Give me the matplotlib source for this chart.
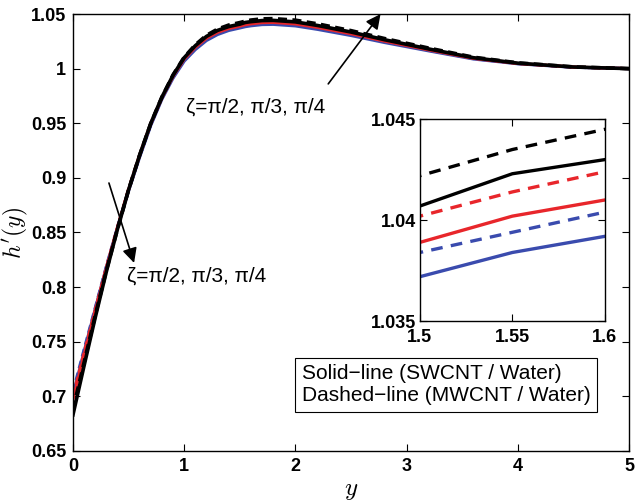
import numpy as np
import matplotlib.pyplot as plt

# -------------------
# DATA
# -------------------
y_vals = [0, 0.1, 0.2, 0.3, 0.4, 0.5, 0.6, 0.7, 0.8, 0.9, 1.0, 1.1, 1.2, 1.3, 1.4,
          1.5, 1.55, 1.6, 1.7, 1.8, 2.0, 2.2, 2.5, 2.8, 3.2, 3.6, 4.0, 4.5, 5.0]

# zeta = pi/2 (black), pi/3 (red), pi/4 (blue); solid = SWCNT, dashed = MWCNT
black_solid = [0.683, 0.728, 0.772, 0.814, 0.853, 0.889, 0.921, 0.950, 0.974, 0.994,
               1.0100, 1.0210, 1.0295, 1.0350, 1.0385, 1.0407, 1.0423, 1.0430, 1.0440,
               1.0442, 1.0428, 1.0395, 1.0335, 1.0265, 1.0180, 1.0100, 1.0050, 1.0015, 1.0000]
black_dash = [0.688, 0.731, 0.774, 0.815, 0.853, 0.889, 0.921, 0.950, 0.974, 0.9943,
              1.0105, 1.0218, 1.0305, 1.0362, 1.0399, 1.0422, 1.0435, 1.0445, 1.0456,
              1.0458, 1.0444, 1.0410, 1.0348, 1.0276, 1.0188, 1.0105, 1.0053, 1.0016, 1.0000]
red_solid = [0.697, 0.738, 0.778, 0.817, 0.854, 0.889, 0.921, 0.9497, 0.9734, 0.993,
             1.0087, 1.0195, 1.0278, 1.0332, 1.0367, 1.0389, 1.0402, 1.0410, 1.0421,
             1.0423, 1.0409, 1.0377, 1.0319, 1.0252, 1.0171, 1.0094, 1.0047, 1.0014, 1.0000]
red_dash = [0.700, 0.740, 0.779, 0.818, 0.855, 0.890, 0.921, 0.950, 0.9737, 0.9935,
            1.0096, 1.0204, 1.0289, 1.0344, 1.0380, 1.0402, 1.0414, 1.0424, 1.0434,
            1.0436, 1.0422, 1.0389, 1.0330, 1.0261, 1.0177, 1.0097, 1.0048, 1.0014, 1.0000]
blue_solid = [0.701, 0.741, 0.780, 0.818, 0.854, 0.888, 0.919, 0.948, 0.9720, 0.9913,
              1.0068, 1.0174, 1.0257, 1.0312, 1.0349, 1.0372, 1.0384, 1.0392, 1.0403,
              1.0405, 1.0391, 1.0359, 1.0303, 1.0239, 1.0162, 1.0088, 1.0044, 1.0012, 1.0000]
blue_dash = [0.704, 0.743, 0.781, 0.819, 0.855, 0.889, 0.920, 0.9490, 0.9728, 0.9923,
             1.0080, 1.0187, 1.0271, 1.0326, 1.0362, 1.0384, 1.0394, 1.0404, 1.0414,
             1.0416, 1.0402, 1.0370, 1.0313, 1.0247, 1.0168, 1.0092, 1.0046, 1.0013, 1.0000]

main_xticks = [0, 1, 2, 3, 4, 5]
main_yticks = [0.65, 0.7, 0.75, 0.8, 0.85, 0.9, 0.95, 1.0, 1.05]
main_yticklabels = ["0.65", "0.7", "0.75", "0.8", "0.85", "0.9", "0.95", "1", "1.05"]
inset_xticks = [1.5, 1.55, 1.6]
inset_xticklabels = ["1.5", "1.55", "1.6"]
inset_yticks = [1.035, 1.04, 1.045]
inset_yticklabels = ["1.035", "1.04", "1.045"]

zeta_text = "ζ=π/2, π/3, π/4"
legend_text = "Solid\u2212line (SWCNT / Water)\nDashed\u2212line (MWCNT / Water)"

# -------------------
# STYLE
# -------------------
plt.rcParams["font.family"] = ["Liberation Sans", "DejaVu Sans"]
plt.rcParams["mathtext.fontset"] = "cm"

BLUE = "#3a4bae"
RED = "#e8262b"
BLACK = "#000000"

series = [
    (blue_solid, BLUE, "-"),
    (blue_dash, BLUE, "--"),
    (red_solid, RED, "-"),
    (red_dash, RED, "--"),
    (black_solid, BLACK, "-"),
    (black_dash, BLACK, "--"),
]


def style_axes(ax, xticks, xlabels, yticks, ylabels):
    ax.set_xticks(xticks)
    ax.set_xticklabels(xlabels, fontsize=13, fontweight="bold")
    ax.set_yticks(yticks)
    ax.set_yticklabels(ylabels, fontsize=13, fontweight="bold")
    ax.tick_params(direction="in", top=True, right=True, length=5, width=0.8, pad=5)
    for s in ax.spines.values():
        s.set_linewidth(1.0)


# -------------------
# PLOT
# -------------------
fig = plt.figure(figsize=(6.4, 5.01), dpi=100)
ax = fig.add_axes([0.114, 0.100, 0.869, 0.872])

for vals, c, ls in series:
    lw = 2.6 if c == BLACK else 2.2
    line, = ax.plot(y_vals, vals, color=c, lw=lw, linestyle=ls)
    if ls == "--":
        line.set_dashes((2.5, 1.5))

ax.set_xlim(0, 5)
ax.set_ylim(0.65, 1.05)
style_axes(ax, main_xticks, [str(t) for t in main_xticks], main_yticks, main_yticklabels)
ax.set_xlabel(r"$y$", fontsize=18, labelpad=2)
ax.set_ylabel(r"$h'(y)$", fontsize=17)
ax.yaxis.set_label_coords(-0.077, 0.5)

# annotations
ax.annotate("", xy=(2.78, 1.052), xytext=(2.28, 0.984),
            arrowprops=dict(arrowstyle="-|>", color="black", lw=1.2, mutation_scale=22),
            annotation_clip=False)
ax.text(1.02, 0.9647, zeta_text, fontsize=15, ha="left", va="center")
ax.annotate("", xy=(0.557, 0.8197), xytext=(0.316, 0.8977),
            arrowprops=dict(arrowstyle="-|>", color="black", lw=1.2, mutation_scale=22))
ax.text(0.485, 0.810, zeta_text, fontsize=15, ha="left", va="center")

# legend box (text only)
fig.text(0.472, 0.232, legend_text, fontsize=15, ha="left", va="center", linespacing=1.2,
         bbox=dict(boxstyle="square,pad=0.32", facecolor="white", edgecolor="black", lw=0.8))

# inset
axin = fig.add_axes([0.656, 0.359, 0.289, 0.403])
for vals, c, ls in series:
    line, = axin.plot(y_vals, vals, color=c, lw=2.4, linestyle=ls)
    if ls == "--":
        line.set_dashes((3.5, 2.5))
axin.set_xlim(1.5, 1.6)
axin.set_ylim(1.035, 1.045)
style_axes(axin, inset_xticks, inset_xticklabels, inset_yticks, inset_yticklabels)
axin.tick_params(axis="y", pad=3)
axin.tick_params(axis="x", pad=6)

fig.savefig("out.png", dpi=100)
